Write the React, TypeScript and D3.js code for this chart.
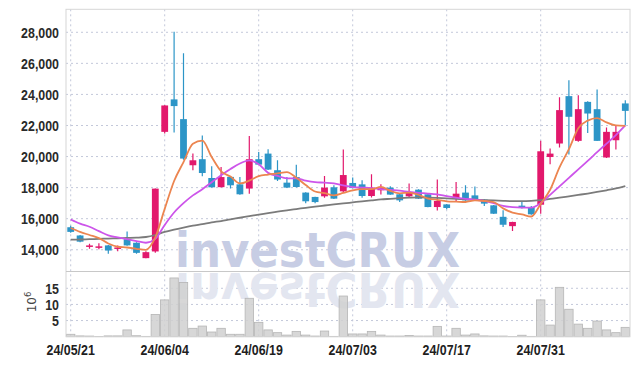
import React from "react";
import * as d3 from "d3";

const dates = [
  "24/05/21","24/05/22","24/05/23","24/05/24","24/05/27","24/05/28","24/05/29","24/05/30","24/05/31","24/06/03",
  "24/06/04","24/06/05","24/06/07","24/06/10","24/06/11","24/06/12","24/06/13","24/06/14","24/06/17","24/06/18",
  "24/06/19","24/06/20","24/06/21","24/06/24","24/06/25","24/06/26","24/06/27","24/06/28","24/07/01","24/07/02",
  "24/07/03","24/07/04","24/07/05","24/07/08","24/07/09","24/07/10","24/07/11","24/07/12","24/07/15","24/07/16",
  "24/07/17","24/07/18","24/07/19","24/07/22","24/07/23","24/07/24","24/07/25","24/07/26","24/07/29","24/07/30",
  "24/07/31","24/08/01","24/08/02","24/08/05","24/08/06","24/08/07","24/08/08","24/08/09","24/08/12","24/08/13",
];
const openP = [
  15450,14920,14230,14170,14280,14100,14680,14450,13460,13890,
  21590,23680,22410,19440,19830,18620,18030,18690,18210,17940,
  19830,20190,19120,18320,18680,17680,17400,17440,18020,17760,
  18300,18210,17460,17830,18000,17570,17440,17870,17570,16750,
  16920,17290,17680,17500,17230,16860,16120,15520,16790,16750,
  16900,19970,20840,23890,21010,23520,23050,19940,21050,23420,
];
const highP = [
  15550,14950,14380,14420,14300,14280,15180,14480,13900,17950,
  23300,28040,26650,20190,21360,19370,19330,18720,18690,21330,
  20300,20470,19760,18690,19480,17700,17420,18750,18150,20450,
  18650,18470,18860,18210,18090,17600,18260,17900,17580,18520,
  16950,18360,18150,18080,17250,16880,16540,15800,17070,16810,
  21010,20520,23810,24920,23950,23560,24320,21870,22020,23630,
];
const lowP = [
  15100,14480,14060,14040,13740,13910,14250,13740,13450,13806,
  21480,21550,19800,19120,18730,18000,18000,17940,17540,17610,
  19450,19130,18430,17990,18000,17000,17000,17350,17260,17710,
  17950,17350,17360,17550,17540,17070,17400,17270,16740,16530,
  16600,17140,17150,17230,16810,16300,15460,15200,16660,16250,
  16320,19500,20580,20130,20950,21520,21000,19900,20450,22020,
];
const closeP = [
  15150,14520,14230,14170,13950,14100,14280,13800,13845,17935,
  23290,23250,19870,19760,18940,18020,18680,18150,17570,19830,
  19480,19160,18520,18000,18040,17120,17070,18000,17290,18810,
  17970,17460,18000,17970,17550,17180,17720,17290,16750,17140,
  16690,17610,17180,17250,16970,16320,15610,15790,16710,16280,
  20340,20190,22990,22560,23050,22770,21010,21590,21590,22940,
];
const volumeM = [
  0.75,0.25,0.2,0.05,0.25,0.25,2.1,0.3,0.1,6.9,
  11.4,18.2,16.8,2.6,3.3,1.45,2.6,0.75,0.75,11.9,
  4.45,2.1,1.25,0.5,1.65,0.5,0.2,1.75,0.1,12.6,
  0.85,0.85,1.65,0.5,0.2,0.2,0.4,0.2,0.2,3.2,
  0.2,2.6,0.5,0.85,0.25,0.2,0.2,0.05,0.45,0.1,
  11.4,3.6,15.3,8.5,3.9,2.6,4.85,2.1,1.25,2.9,
];
const ma5 = [
  15400,15150,14950,14750,14404,14194,14146,14060,13995,14792,
  16630,18424,19638,20821,21022,19968,19054,18710,18272,18450,
  18742,18838,18912,18998,18640,18168,17750,17646,17504,17658,
  17828,17906,17906,18042,17790,17632,17684,17542,17298,17216,
  17118,17096,17074,17174,17140,17066,16666,16388,16280,16142,
  16946,17862,19302,20472,21826,22312,22476,22196,22002,21980,
];
const ma20 = [
  15950,15680,15480,15200,14930,14800,14680,14560,14450,14700,
  15600,16400,17000,17500,17900,18350,18800,19200,19550,19760,
  19500,18950,18750,18600,18600,18450,18350,18320,18280,18150,
  18030,18000,17970,17900,17850,17800,17720,17660,17620,17560,
  17450,17350,17280,17220,17150,17000,16830,16740,16710,16710,
  17000,17530,18080,18630,19180,19720,20280,20830,21380,22000,
];
const ma60 = [
  14650,14660,14680,14700,14720,14740,14760,14780,14820,14950,
  15150,15300,15430,15550,15650,15760,15850,15960,16060,16160,
  16260,16360,16450,16540,16620,16700,16780,16850,16920,16980,
  17050,17120,17180,17240,17280,17320,17350,17370,17360,17340,
  17310,17270,17240,17220,17200,17180,17150,17130,17130,17150,
  17190,17270,17350,17440,17530,17620,17720,17830,17950,18100,
];
const priceTicks = [14000, 16000, 18000, 20000, 22000, 24000, 26000, 28000];
const volTicks = [5, 10, 15];
const dateTickIdx = [0, 10, 20, 30, 40, 50];

const W = 639, H = 366;
const L = 66, R = 630, T = 9.3, MID = 271.5, B = 336.7;

const UP = "#e2186c", DOWN = "#2c95c7";
const FONT = "'Liberation Sans', Arial, sans-serif";
const SX = 0.8;

function NarrowText(props: { x: number; y: number; anchor: string; children: React.ReactNode; fill?: string }) {
  return (
    <text transform={`translate(${props.x},${props.y}) scale(${SX},1)`} textAnchor={props.anchor}
      fontFamily={FONT} fontWeight="bold" fontSize={15.5} fill={props.fill || "#2a2a2a"}>{props.children}</text>
  );
}

export default function App() {
  const idx = dates.map((_, i) => i);
  const x = d3.scaleBand<number>().domain(idx).range([L, R]).padding(0);
  const bw = x.bandwidth();
  const cx = (i: number) => (x(i) as number) + bw / 2;
  const y = d3.scaleLinear().domain([12600, 29480]).range([MID, T]);
  const yv = d3.scaleLinear().domain([0, 20.2]).range([B, MID]);

  const line = (arr: number[]) =>
    d3.line<number>().x((_, i) => cx(i)).y((v) => y(v)).curve(d3.curveMonotoneX)(arr) || "";

  const grid = "#c3c8da";
  const bodyW = 6.8;
  const wmFont = "'DejaVu Sans', Verdana, sans-serif";

  return (
    <svg width={W} height={H} style={{ position: "absolute", left: 0, top: 0, background: "#fff" }}>
      <defs>
        <clipPath id="mainClip"><rect x={L} y={T} width={R - L} height={MID - T} /></clipPath>
        <clipPath id="volClip"><rect x={L} y={MID} width={R - L} height={B - MID} /></clipPath>
      </defs>
      {/* grid */}
      {priceTicks.map((t) => (
        <line key={"pg" + t} x1={L} x2={R} y1={y(t)} y2={y(t)} stroke={grid} strokeDasharray="2,3" />
      ))}
      {volTicks.map((t) => (
        <line key={"vg" + t} x1={L} x2={R} y1={yv(t)} y2={yv(t)} stroke={grid} strokeDasharray="2,3" />
      ))}
      {dateTickIdx.map((i) => (
        <line key={"xg" + i} x1={cx(i)} x2={cx(i)} y1={T} y2={B} stroke={grid} strokeDasharray="2,3" />
      ))}
      {/* watermark */}
      <g clipPath="url(#mainClip)">
        <text x={175} y={267} fontFamily={wmFont} fontWeight="bold" fontSize={48}
          textLength={285} lengthAdjust="spacingAndGlyphs" fill="#c7cde4">investCRUX</text>
      </g>
      <g clipPath="url(#volClip)">
        <g transform={`translate(0, ${2 * 270}) scale(1,-1)`}>
          <text x={175} y={267} fontFamily={wmFont} fontWeight="bold" fontSize={48}
            textLength={285} lengthAdjust="spacingAndGlyphs" fill="#e3e6f0">investCRUX</text>
        </g>
      </g>
      {/* volume bars */}
      {volumeM.map((v, i) => (
        <rect key={"v" + i} x={(x(i) as number) + 0.5} width={bw - 1} y={yv(v)} height={B - yv(v)}
          fill="#d0d0d0" fillOpacity={0.85} stroke="#b5b5b5" strokeWidth={0.8} />
      ))}
      {/* candles */}
      <g clipPath="url(#mainClip)">
        {idx.map((i) => {
          const up = closeP[i] >= openP[i];
          const c = up ? UP : DOWN;
          const top = y(Math.max(openP[i], closeP[i]));
          const bot = y(Math.min(openP[i], closeP[i]));
          const h = Math.max(1.5, bot - top);
          return (
            <g key={"c" + i}>
              <line x1={cx(i)} x2={cx(i)} y1={y(highP[i])} y2={y(lowP[i])} stroke={c} strokeWidth={1.2} />
              <rect x={cx(i) - bodyW / 2} width={bodyW} y={h === 1.5 ? top - 0.75 : top} height={h} fill={c} />
            </g>
          );
        })}
        {/* moving averages */}
        <path d={line(ma60)} fill="none" stroke="#7b7b7b" strokeWidth={1.8} />
        <path d={line(ma20)} fill="none" stroke="#cd55ea" strokeWidth={1.8} />
        <path d={line(ma5)} fill="none" stroke="#ec8550" strokeWidth={1.8} />
      </g>
      {/* frame */}
      <rect x={L} y={T} width={R - L} height={B - T} fill="none" stroke="#d6d6d6" strokeWidth={1} />
      <line x1={L} x2={R} y1={MID} y2={MID} stroke="#c8c8c8" strokeWidth={1.2} />
      {/* axes labels */}
      {priceTicks.map((t) => (
        <NarrowText key={"pt" + t} x={59} y={y(t) + 5.5} anchor="end">{d3.format(",")(t)}</NarrowText>
      ))}
      {volTicks.map((t) => (
        <NarrowText key={"vt" + t} x={59} y={yv(t) + 5.5} anchor="end">{t}</NarrowText>
      ))}
      <text transform={`translate(36, 302) rotate(-90)`} textAnchor="middle" fontFamily="'DejaVu Sans', sans-serif"
        fontSize={12} fill="#444">10<tspan dy="-5" fontSize={8.5}>6</tspan></text>
      {dateTickIdx.map((i) => (
        <NarrowText key={"dt" + i} x={cx(i)} y={355} anchor="middle" fill="#1e1e1e">{dates[i]}</NarrowText>
      ))}
    </svg>
  );
}
